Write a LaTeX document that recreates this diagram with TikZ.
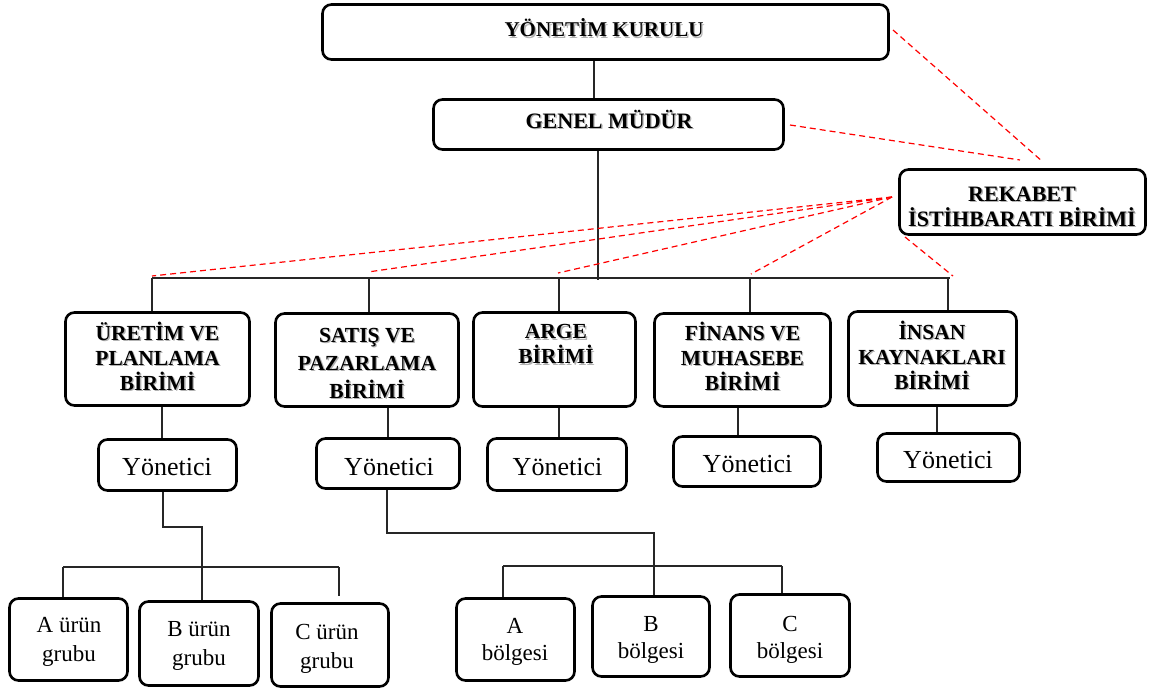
\documentclass[tikz,border=0pt]{standalone}
\usepackage{fontspec}
\setmainfont{Liberation Serif}
\newcommand\shd[1]{\makebox[0pt][l]{\hspace{1.3pt}\raisebox{-1.3pt}{\textcolor{black!30}{#1}}}#1}
\begin{document}
\begin{tikzpicture}[x=1pt,y=-1pt,
  box/.style={draw, line width=2.6pt, rounded corners=9pt, inner sep=0pt},
  lbl/.style={align=center, inner sep=0pt},
  headlbl/.style={lbl, font=\fontsize{21.5}{25}\selectfont\bfseries},
  mgrlbl/.style={lbl, anchor=base, font=\fontsize{26}{30}\selectfont},
  sublbl/.style={lbl, font=\fontsize{23}{29}\selectfont},
  link/.style={line width=1.3pt, draw=black!85},
  reddash/.style={draw=red, line width=1.2pt, dash pattern=on 6pt off 4pt}]
\useasboundingbox (0,0) rectangle (1152,690);

% ---- top levels ----
\node[box, minimum width=566pt, minimum height=55pt] (yk) at (605.5,32) {};
\node[lbl, anchor=base, font=\fontsize{21}{24}\selectfont\bfseries] (ykt) at (604,37) {\shd{YÖNETİM KURULU}};
\node[box, minimum width=350pt, minimum height=50pt] (gm) at (608.5,124.5) {};
\node[lbl, anchor=base, font=\fontsize{22}{25}\selectfont\bfseries] (gmt) at (609,128.5) {\shd{GENEL MÜDÜR}};
\node[box, minimum width=246pt, minimum height=65pt] (rek) at (1022.5,202) {};
\node[headlbl, font=\fontsize{22}{25}\selectfont\bfseries] (rekt) at (1022,207) {\shd{REKABET}\\\shd{İSTİHBARATI BİRİMİ}};

% ---- departments ----
\node[box, minimum width=184pt, minimum height=93pt] (ur) at (157.5,359) {};
\node[headlbl] (urt) at (157.5,357) {\shd{ÜRETİM VE}\\\shd{PLANLAMA}\\\shd{BİRİMİ}};
\node[box, minimum width=183pt, minimum height=93pt] (st) at (367,360) {};
\node[headlbl, font=\fontsize{21.5}{28}\selectfont\bfseries] (stt) at (367,364) {\shd{SATIŞ VE}\\\shd{PAZARLAMA}\\\shd{BİRİMİ}};
\node[box, minimum width=162pt, minimum height=94pt] (ar) at (554.5,359.5) {};
\node[headlbl] (art) at (556,345) {\shd{ARGE}\\\shd{BİRİMİ}};
\node[box, minimum width=176pt, minimum height=93pt] (fin) at (742.5,360) {};
\node[headlbl] (fint) at (742.5,357) {\shd{FİNANS VE}\\\shd{MUHASEBE}\\\shd{BİRİMİ}};
\node[box, minimum width=168pt, minimum height=94pt] (ik) at (932.5,358.5) {};
\node[headlbl] (ikt) at (932,355.5) {\shd{İNSAN}\\\shd{KAYNAKLARI}\\\shd{BİRİMİ}};

% ---- managers ----
\node[box, minimum width=138pt, minimum height=51pt] (y1) at (167.5,465) {};
\node[mgrlbl] (y1t) at (167,475) {Yönetici};
\node[box, minimum width=143pt, minimum height=50pt] (y2) at (388,463.5) {};
\node[mgrlbl] (y2t) at (389,475) {Yönetici};
\node[box, minimum width=139pt, minimum height=52pt] (y3) at (557,464.5) {};
\node[mgrlbl] (y3t) at (557.5,475) {Yönetici};
\node[box, minimum width=147pt, minimum height=50pt] (y4) at (747,461.5) {};
\node[mgrlbl] (y4t) at (747.5,472) {Yönetici};
\node[box, minimum width=142pt, minimum height=48pt] (y5) at (948.5,457.5) {};
\node[mgrlbl] (y5t) at (948,468) {Yönetici};

% ---- product groups and regions ----
\node[box, minimum width=118pt, minimum height=82pt] (au) at (68.5,639.5) {};
\node[sublbl] (aut) at (69,642) {A ürün\\grubu};
\node[box, minimum width=119pt, minimum height=84pt] (bu) at (199,643.5) {};
\node[sublbl] (but) at (199,646) {B ürün\\grubu};
\node[box, minimum width=117pt, minimum height=83pt] (cu) at (330,645) {};
\node[sublbl] (cut) at (327,649) {C ürün\\grubu};
\node[box, minimum width=118pt, minimum height=82pt] (ab) at (515.5,639.5) {};
\node[sublbl, font=\fontsize{23}{27}\selectfont] (abt) at (515,642) {A\\bölgesi};
\node[box, minimum width=117pt, minimum height=80pt] (bb) at (651,636.5) {};
\node[sublbl, font=\fontsize{23}{27}\selectfont] (bbt) at (651,640) {B\\bölgesi};
\node[box, minimum width=119pt, minimum height=82pt] (cb) at (790,635.5) {};
\node[sublbl, font=\fontsize{23}{27}\selectfont] (cbt) at (790,640) {C\\bölgesi};

% ---- solid connectors ----
\coordinate (busL) at (152,278);
\coordinate (busR) at (950,278);
\coordinate (trunk) at (598,280);
\draw[link] (yk.south -| 594,0) -- (gm.north -| 594,0);
\draw[link] (gm.south -| 598,0) -- (trunk);
\draw[link] (busL) -- (busR);
\draw[link] (busL) -- (ur.north -| busL);
\draw[link] (369,278) -- (st.north -| 369,0);
\draw[link] (559,278) -- (ar.north -| 559,0);
\draw[link] (750,278) -- (fin.north -| 750,0);
\draw[link] (948,278) -- (ik.north -| 948,0);

\draw[link] (ur.south -| 162,0) -- (y1.north -| 162,0);
\draw[link] (st.south -| 388,0) -- (y2.north -| 388,0);
\draw[link] (ar.south -| 559,0) -- (y3.north -| 559,0);
\draw[link] (fin.south -| 738,0) -- (y4.north -| 738,0);
\draw[link] (ik.south -| 937,0) -- (y5.north -| 937,0);

\draw[link] (y1.south -| 163,0) -- (163,527) -- (202,527) -- (bu.north -| 202,0);
\draw[link] (63,567) -- (339,567);
\draw[link] (63,567) -- (au.north -| 63,0);
\draw[link] (339,567) -- (339,596);

\draw[link] (y2.south -| 387,0) -- (387,533) -- (654,533) -- (bb.north -| 654,0);
\draw[link] (503,566) -- (782,566);
\draw[link] (503,566) -- (ab.north -| 503,0);
\draw[link] (782,566) -- (cb.north -| 782,0);

% ---- dashed lines of the competitive intelligence unit ----
\coordinate (rs) at (892,197);
\draw[reddash] (893,30) -- (1043,162);
\draw[reddash] (790,125) -- (1020,160);
\draw[reddash] (rs) -- (152,276);
\draw[reddash] (rs) -- (368,272);
\draw[reddash] (rs) -- (558,273);
\draw[reddash] (rs) -- (751,274);
\draw[reddash] (905,237) -- (953,276);
\end{tikzpicture}
\end{document}
